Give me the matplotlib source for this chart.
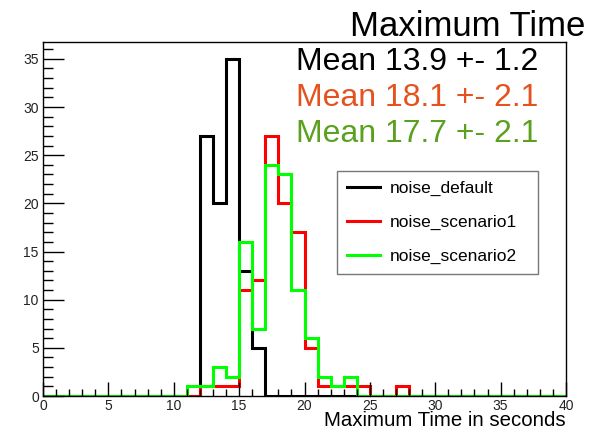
import matplotlib
matplotlib.use("Agg")
import matplotlib.pyplot as plt
import numpy as np

plt.rcParams['font.family'] = ['Liberation Sans', 'DejaVu Sans']

# Data: 40 bins of width 1 s, from 0 to 40
edges = np.arange(0, 41, 1)
noise_default = [0]*12 + [27, 20, 35, 13, 5] + [0]*23
noise_scenario1 = [0]*12 + [1, 1, 1, 11, 12, 27, 20, 17, 5, 1, 1, 1, 1, 0, 0, 1] + [0]*12
noise_scenario2 = [0]*11 + [1, 1, 3, 2, 16, 7, 24, 23, 11, 6, 2, 1, 2] + [0]*16
series_names = ["noise_default", "noise_scenario1", "noise_scenario2"]
line_colors = ["black", "#ff0000", "#00ff00"]
mean_texts = ["Mean 13.9 +- 1.2", "Mean 18.1 +- 2.1", "Mean 17.7 +- 2.1"]
mean_colors = ["black", "#e4531f", "#5ba11f"]

W, H = 592, 429
fig = plt.figure(figsize=(W/100, H/100), dpi=100)
ax = fig.add_axes([43/W, 33/H, 523/W, 354/H])

for vals, name, col in zip([noise_default, noise_scenario1, noise_scenario2],
                           series_names, line_colors):
    ax.stairs(vals, edges, baseline=0, color=col, linewidth=2.2, label=name)

ax.set_xlim(0, 40)
ax.set_ylim(0, 36.75)
ax.set_xticks(np.arange(0, 41, 5))
ax.set_xticks(np.arange(0, 41, 1), minor=True)
ax.set_yticks(np.arange(0, 36, 5))
ax.set_yticks(np.arange(0, 37, 1), minor=True)
ax.tick_params(direction="in", which="major", length=10, width=1, labelsize=10,
               labelcolor="#222222", top=False, right=False, pad=2)
ax.tick_params(direction="in", which="minor", length=5, width=1,
               top=False, right=False)
ax.tick_params(axis="y", which="major", length=15, pad=3)
ax.tick_params(axis="y", which="minor", length=7)
for sp in ax.spines.values():
    sp.set_linewidth(1)

fig.text(566/W, 1 - 426/H, "Maximum Time in seconds", fontsize=14.7,
         ha="right", va="baseline")

leg = ax.legend(loc="upper left",
                bbox_to_anchor=((337-43)/523, (396-175)/354, (538-337)/523, 0.01),
                mode="expand", fontsize=12.5, frameon=True, fancybox=False,
                borderpad=0.55, labelspacing=1.08, handlelength=1.9,
                handletextpad=0.57, borderaxespad=0)
leg.get_frame().set_edgecolor("#555555")
leg.get_frame().set_linewidth(1)

fig.text(585/W, 1 - 36/H, "Maximum Time", fontsize=25, ha="right", va="baseline")
for i, (txt, col) in enumerate(zip(mean_texts, mean_colors)):
    fig.text(296/W, 1 - (70 + 36*i)/H, txt, fontsize=23, color=col,
             ha="left", va="baseline")

fig.savefig("out.png", dpi=100)
